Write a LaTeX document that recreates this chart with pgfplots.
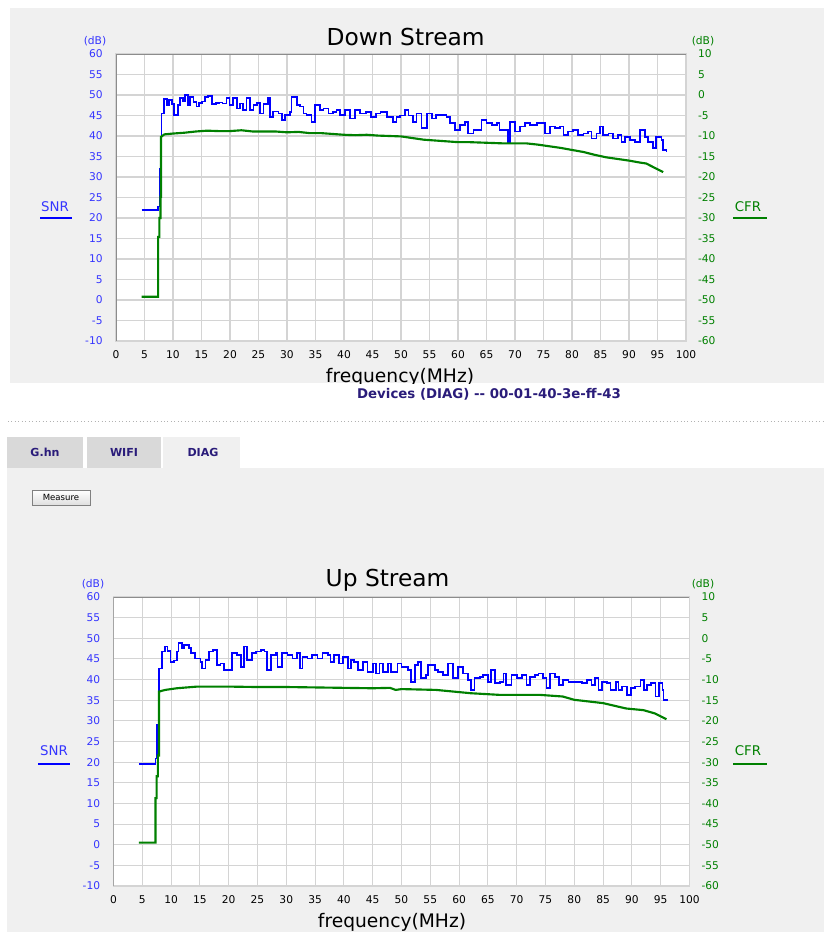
\documentclass[border=0pt]{standalone}
\usepackage{pgfplots}
\pgfplotsset{compat=1.18}
\usepackage{fontspec}
\setmainfont{DejaVu Sans}
\definecolor{panel}{HTML}{F0F0F0}
\definecolor{gridgray}{HTML}{D4D4D4}
\definecolor{framegray}{HTML}{8C8C8C}
\definecolor{snrblue}{HTML}{0000FF}
\definecolor{lblblue}{HTML}{3535FF}
\definecolor{cfrgreen}{HTML}{008000}
\definecolor{navy}{HTML}{2A1C7A}
\definecolor{tabgray}{HTML}{D9D9D9}

\pgfplotstableread{
x y
4.5 22
7.4 22.8
7.7 32
8.0 45.5
8.4 49
8.9 47.6
9.3 48.8
9.8 47.8
10.2 45.1
10.9 47.5
11.2 49.2
11.7 48.5
12.1 50
12.6 47.6
13.0 49.6
13.6 48.3
14.1 47.2
14.6 48
15.1 48.4
15.6 49.6
16.2 49.8
16.8 47.8
17.5 48
18.1 48.2
18.7 47.9
19.4 49.2
19.9 47.6
20.5 49.2
21.2 46.7
21.7 47.9
22.3 46.3
22.9 49.2
23.5 46.3
24.1 47.6
24.7 48
25.3 45.5
25.9 47.8
26.7 49.2
27.0 44.7
27.6 46
28.5 45.5
29.1 43.9
29.7 45.1
30.5 45.9
30.8 49.6
31.7 47.6
32.3 47.2
32.9 45.5
33.4 45.1
34.3 43.5
34.9 47.6
35.8 46.3
36.4 46.7
37.3 45.5
38.1 45.9
38.7 46.3
39.3 45.1
40.2 46.3
41.0 44.3
41.9 46.3
42.8 45.5
43.8 45.9
44.7 44.7
45.6 45.5
46.4 45.9
47.5 44.7
48.6 43.5
49.2 44.7
49.8 45.0
50.7 46.3
51.3 45
52.1 43.5
52.7 45.5
53.6 41.9
54.5 45.5
55.4 44.3
56.2 45.1
57.1 45.1
58.0 44.7
58.6 43.1
59.5 41.5
60.3 42.7
61.2 43.5
61.8 40.6
62.7 41.5
63.5 41.5
64.1 43.9
65.0 43.1
65.9 42.7
66.8 43.1
67.3 41.5
68.2 41.5
68.8 38.6
69.1 43.5
70.0 41.1
70.9 42.3
71.7 43.1
72.6 42.7
73.8 43.1
74.7 43.1
75.2 40.6
76.1 42.3
77.0 41.9
77.9 42.3
78.5 40.2
79.3 41.1
80.2 41.5
81.1 40.2
82.0 40.6
82.8 41.1
83.4 39.4
84.3 40.6
84.9 42.3
85.5 40.2
86.4 40.6
87.2 39.4
88.1 40.2
88.7 38.6
89.3 39.8
90.2 39.0
91.0 38.6
91.9 41.5
92.8 39.8
93.3 38.6
94.2 37
94.8 39.8
95.7 39
96.0 36.6
96.6 36.2
}\dsnr

\pgfplotstableread{
x y
4.5 -49.2
7.4 -49.2
7.4 -34.6
7.6 -34.6
7.6 -30
7.8 -30
7.8 -24.8
7.9 -24.8
7.9 -10.2
8.5 -9.6
10 -9.4
12 -9.2
14 -8.9
16 -8.7
18 -8.8
20 -8.8
22 -8.6
24 -8.9
26 -8.9
28 -8.9
30 -9.1
32 -9.0
34 -9.3
36 -9.3
38 -9.5
40 -9.7
42 -9.8
44 -9.7
46 -9.9
48 -10.0
50 -10.1
52 -10.5
54 -10.9
56 -11.1
58 -11.3
60 -11.5
62 -11.5
64 -11.6
66 -11.7
68 -11.8
70 -11.8
72 -11.8
74 -12.1
76 -12.5
78 -12.9
80 -13.4
82 -13.9
84 -14.6
86 -15.2
88 -15.6
90 -16.0
92 -16.5
93 -16.7
94 -17.4
95 -18.1
96 -18.8
}\dcfr

\pgfplotstableread{
x y
4.4 19.5
7.3 20.9
7.6 29
7.9 42.7
8.4 46.8
8.9 48
9.4 47
9.9 44.3
10.5 44.6
11.0 46.8
11.3 48.8
11.9 47.6
12.3 48.4
12.8 48.4
13.1 47.6
13.4 46.4
14.2 45.1
15.1 44.3
15.4 42.7
16.0 44.7
16.6 46.8
17.3 47.2
18.0 43.5
18.6 43.9
19.2 42.3
20.0 42.3
20.6 46.4
21.5 45.9
22.1 43.1
22.6 48
23.2 44.7
24.1 46.4
24.7 46.8
25.6 47.2
26.2 46.8
26.7 42.3
27.3 45.9
28.2 46.4
28.5 43.1
29.3 46.4
30.2 45.9
31.1 45.1
31.9 46.4
32.4 42.7
32.8 45.5
33.7 45.1
34.5 46
35.4 45.1
36.3 46.4
37.2 45.9
37.7 44.3
38.3 45.9
39.2 43.9
39.8 45.5
40.7 42.7
41.2 44.7
41.8 44.3
42.4 42.3
43.3 44.3
44.1 41.9
45.0 43.9
45.6 41.5
46.2 43.9
46.8 41.9
47.6 43.9
48.2 41.9
49.3 43.9
50.0 43.1
51.1 42.3
51.7 39.5
52.3 43.5
52.9 44.3
53.4 40.3
54.3 41.1
54.6 43.5
55.8 42.3
56.4 41.9
57.2 41.1
58.1 43.9
58.9 40.3
59.8 43.1
60.7 41.5
61.6 39.9
62.1 37.5
62.7 40.3
63.6 40.7
64.2 41.1
65.0 39.5
65.6 42.3
66.2 39.1
67.1 39.5
67.7 41.5
68.2 38.7
69.1 41.1
70.0 40.3
70.9 41.1
71.7 38.7
72.3 40.7
73.2 41.1
73.8 41.5
74.6 40.3
75.2 37.9
75.8 41.5
76.7 40.7
77.3 38.7
78.1 39.9
79.0 39.5
80.2 39.5
81.3 39.1
82.2 39.9
83.0 38.7
83.6 40.3
84.2 37.5
84.8 39.5
85.7 39.1
86.3 37.5
87.2 39.5
87.7 37.5
88.3 38.3
89.2 36.3
89.8 37.9
90.6 38.3
91.5 39.9
92.1 37.5
92.6 38.7
93.3 39.1
94.1 35.9
94.7 39.1
95.3 37.5
95.5 35.1
96.1 34.7
}\usnr

\pgfplotstableread{
x y
4.4 -49.5
7.3 -49.5
7.3 -38.7
7.5 -38.7
7.5 -33.4
7.7 -33.4
7.7 -28.4
7.9 -28.4
7.9 -12.9
9 -12.5
11 -12.1
14.5 -11.7
20 -11.7
25 -11.8
30 -11.8
35 -11.9
40 -12.0
45 -12.1
48 -12.0
49 -12.5
50 -12.3
56 -12.5
62 -13.3
67 -13.7
74 -13.7
78 -14.1
80 -14.9
85 -15.7
89 -17.0
92 -17.4
94 -18.2
96 -19.6
}\ucfr

\pgfplotsset{
  chartleft/.style={
    scale only axis, xmin=0, xmax=100, ymin=-10, ymax=60,
    xtick={0,5,...,100}, ytick={-10,-5,...,60},
    grid=major, grid style={color=gridgray, line width=0.8pt},
    axis line style={color=gridgray, line width=0.8pt},
    axis background/.style={fill=white},
    tick style={draw=none},
    /pgf/number format/assume math mode=true,
    yticklabel style={font=\fontsize{8}{9}\selectfont, text=lblblue, xshift=-6.5pt},
    xticklabel style={font=\fontsize{8}{9}\selectfont, text=black, yshift=-4pt},
  },
  chartright/.style={
    scale only axis, xmin=0, xmax=100, ymin=-60, ymax=10,
    axis y line*=right, axis x line=none,
    ytick={-60,-55,...,10},
    y axis line style={draw=none}, tick style={draw=none},
    /pgf/number format/assume math mode=true,
    yticklabel style={font=\fontsize{8}{9}\selectfont, text=cfrgreen, xshift=5.5pt},
  },
}

\begin{document}
\begin{tikzpicture}
\useasboundingbox (0,0) rectangle (618pt,-699pt);
\begin{scope}[x=0.75pt,y=-0.75pt]
  \fill[white] (0,0) rectangle (824,932);
  \fill[panel] (10,8) rectangle (824,383);
  \fill[panel] (7,468) rectangle (824,932);
  % tabs
  \fill[tabgray] (7,437) rectangle (83,468);
  \fill[tabgray] (87,437) rectangle (161,468);
  \fill[panel] (163,437) rectangle (240,468);
  \node[font=\fontsize{8.3}{9}\selectfont\bfseries, text=navy] at (45,452) {G.hn};
  \node[font=\fontsize{8.3}{9}\selectfont\bfseries, text=navy] at (124,452) {WIFI};
  \node[font=\fontsize{8.3}{9}\selectfont\bfseries, text=navy] at (203,452) {DIAG};
  \draw[gray!60, dotted, line width=0.6pt] (8,421) -- (824,421);
  % button
  \shade[top color=white, bottom color=gray!25, draw=gray] (32,490) rectangle (90,505);
  \node[font=\fontsize{6.4}{7}\selectfont] at (61,497.5) {Measure};
  % texts top chart
  \node[anchor=west, font=\fontsize{17.5}{20}\selectfont] at (322,37) {Down Stream};
  \node[font=\fontsize{8}{9}\selectfont, text=lblblue] at (95,41) {(dB)};
  \node[font=\fontsize{8}{9}\selectfont, text=cfrgreen] at (703,41) {(dB)};
  \node[font=\fontsize{10}{11}\selectfont, text=lblblue] at (55,207) {SNR};
  \draw[snrblue, line width=2.2pt] (40,218) -- (72,218);
  \node[font=\fontsize{10}{11}\selectfont, text=cfrgreen] at (748,207) {CFR};
  \draw[cfrgreen, line width=2.2pt] (733,218) -- (767,218);
  \node[font=\fontsize{14}{16}\selectfont] at (400,377) {frequency(MHz)};
  \fill[white] (0,383.5) rectangle (824,388);
  \node[font=\fontsize{10}{12}\selectfont\bfseries, text=navy] at (489,394) {Devices (DIAG) -{}- 00-01-40-3e-ff-43};
  % texts bottom chart
  \node[anchor=west, font=\fontsize{17.5}{20}\selectfont] at (321,580) {Up Stream};
  \node[font=\fontsize{8}{9}\selectfont, text=lblblue] at (93,584) {(dB)};
  \node[font=\fontsize{8}{9}\selectfont, text=cfrgreen] at (703,584) {(dB)};
  \node[font=\fontsize{10}{11}\selectfont, text=lblblue] at (54,751) {SNR};
  \draw[snrblue, line width=2.2pt] (38,764) -- (70,764);
  \node[font=\fontsize{10}{11}\selectfont, text=cfrgreen] at (748,751) {CFR};
  \draw[cfrgreen, line width=2.2pt] (733,764) -- (767,764);
  \node[font=\fontsize{14}{16}\selectfont] at (392,922) {frequency(MHz)};
\end{scope}

% ---------- Down Stream ----------
\begin{axis}[chartleft, width=427.5pt, height=215.25pt, at={(87pt,-255.75pt)}, anchor=south west]
  \draw[framegray, line width=0.9pt] (axis cs:0,-10) -- (axis cs:0,60) -- (axis cs:100,60);
  \addplot[const plot, snrblue, line width=1.3pt] table[x=x,y=y] {\dsnr};
\end{axis}
\begin{axis}[chartright, width=427.5pt, height=215.25pt, at={(87pt,-255.75pt)}, anchor=south west]
  \addplot[sharp plot, cfrgreen, line width=1.6pt] table[x=x,y=y] {\dcfr};
\end{axis}

% ---------- Up Stream ----------
\begin{axis}[chartleft, width=432pt, height=216.75pt, at={(85.1pt,-664.5pt)}, anchor=south west]
  \draw[framegray, line width=0.9pt] (axis cs:0,-10) -- (axis cs:0,60) -- (axis cs:100,60);
  \addplot[const plot, snrblue, line width=1.3pt] table[x=x,y=y] {\usnr};
\end{axis}
\begin{axis}[chartright, width=432pt, height=216.75pt, at={(85.1pt,-664.5pt)}, anchor=south west]
  \addplot[sharp plot, cfrgreen, line width=1.6pt] table[x=x,y=y] {\ucfr};
\end{axis}
\end{tikzpicture}
\end{document}
